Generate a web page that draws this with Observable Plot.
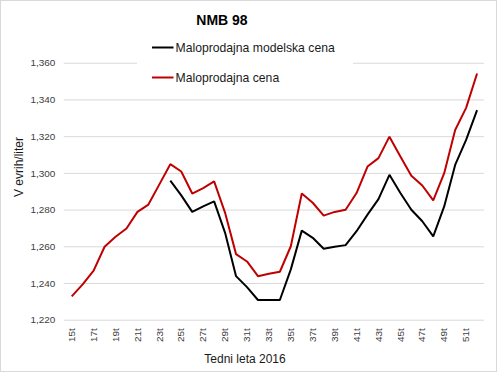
<!DOCTYPE html>
<html>
<head>
<meta charset="utf-8">
<script src="https://cdn.jsdelivr.net/npm/d3@7"></script>
<script src="https://cdn.jsdelivr.net/npm/@observablehq/plot@0.6"></script>
<style>
  html, body { margin: 0; padding: 0; background: #fff; }
  #wrap { position: relative; width: 497px; height: 372px; box-sizing: border-box; border: 1px solid #d9d9d9; overflow: hidden; font-family: "Liberation Sans", Arial, sans-serif; }
  #wrap > svg { position: absolute; left: -1px; top: -1px; }
  #overlay { position: absolute; left: -1px; top: -1px; pointer-events: none; }
</style>
</head>
<body>
<div id="wrap"></div>
<script>
const chartTitle = "NMB 98";
const yTitle = "V evrih/liter";
const xTitle = "Tedni leta 2016";
const seriesNames = ["Maloprodajna modelska cena", "Maloprodajna cena"];
const seriesColors = ["#000000", "#c00000"];

const weeks = d3.range(15, 53);
const retailPrice = [1233, 1239.5, 1247, 1260, 1265.5, 1270, 1279, 1283, 1294, 1305, 1301, 1289, 1292, 1295.6, 1278.5, 1256, 1252, 1244, 1245.3, 1246.4, 1260.3, 1289, 1284, 1277, 1279, 1280.2, 1289.3, 1303.7, 1308.3, 1320, 1309.2, 1298.7, 1293.4, 1285.3, 1300.1, 1323.6, 1335.7, 1354.4];
const modelPrice = [null, null, null, null, null, null, null, null, null, 1296, 1288, 1279, 1282, 1284.7, 1267.6, 1244, 1238, 1231, 1231, 1231, 1247.7, 1268.8, 1264.9, 1258.9, 1260, 1260.9, 1268.5, 1277.5, 1286, 1299.2, 1289.3, 1280.2, 1273.9, 1265.7, 1282, 1304.6, 1318.2, 1334.5];
const yTicks = [1220, 1240, 1260, 1280, 1300, 1320, 1340, 1360];
const xTicks = [15, 17, 19, 21, 23, 25, 27, 29, 31, 33, 35, 37, 39, 41, 43, 45, 47, 49, 51];

const rows = [];
weeks.forEach((w, i) => {
  rows.push({week: w, value: modelPrice[i], series: seriesNames[0]});
});
weeks.forEach((w, i) => {
  rows.push({week: w, value: retailPrice[i], series: seriesNames[1]});
});

const W = 497, H = 372;
const chart = Plot.plot({
  width: W,
  height: H,
  marginLeft: 64,
  marginRight: 11,
  marginTop: 63,
  marginBottom: 51,
  style: {fontFamily: "'Liberation Sans', Arial, sans-serif", fontSize: "10px", color: "#404040", background: "transparent"},
  x: {type: "band", domain: weeks, padding: 0},
  y: {domain: [1220, 1360]},
  color: {domain: seriesNames, range: seriesColors},
  marks: [
    Plot.gridY(yTicks, {stroke: "#d9d9d9", strokeOpacity: 1, strokeWidth: 1}),
    Plot.axisY(yTicks, {tickSize: 0, tickPadding: 9, tickFormat: d3.format(","), label: null}),
    Plot.axisX(xTicks, {tickSize: 0, tickPadding: 8, tickRotate: -90, tickFormat: d => d + "t", label: null}),
    Plot.lineY(rows, {x: "week", y: "value", z: "series", stroke: "series", strokeWidth: 2, strokeLinejoin: "miter", strokeLinecap: "butt"})
  ]
});
const wrap = document.getElementById("wrap");
wrap.appendChild(chart);

// overlay: title, legend, axis titles
const ov = d3.select(wrap).append("svg").attr("id", "overlay").attr("width", W).attr("height", H)
  .style("font-family", "'Liberation Sans', Arial, sans-serif");
ov.append("text").attr("x", 222).attr("y", 25).attr("text-anchor", "middle")
  .attr("font-size", 14).attr("font-weight", "bold").attr("fill", "#000").text(chartTitle);
ov.append("rect").attr("x", 137).attr("y", 36).attr("width", 216).attr("height", 54).attr("fill", "#fff");
const legY = [47.5, 77.5];
seriesNames.forEach((name, i) => {
  ov.append("line").attr("x1", 152).attr("x2", 173.5).attr("y1", legY[i]).attr("y2", legY[i])
    .attr("stroke", seriesColors[i]).attr("stroke-width", 2);
  ov.append("text").attr("x", 175.5).attr("y", legY[i] + 4.3).attr("font-size", 12.2).attr("fill", "#1a1a1a").text(name);
});
ov.append("text").attr("transform", "translate(23,167) rotate(-90)").attr("text-anchor", "middle")
  .attr("font-size", 12).attr("fill", "#1a1a1a").text(yTitle);
ov.append("text").attr("x", 245).attr("y", 363).attr("text-anchor", "middle")
  .attr("font-size", 12).attr("fill", "#1a1a1a").text(xTitle);
</script>
</body>
</html>
